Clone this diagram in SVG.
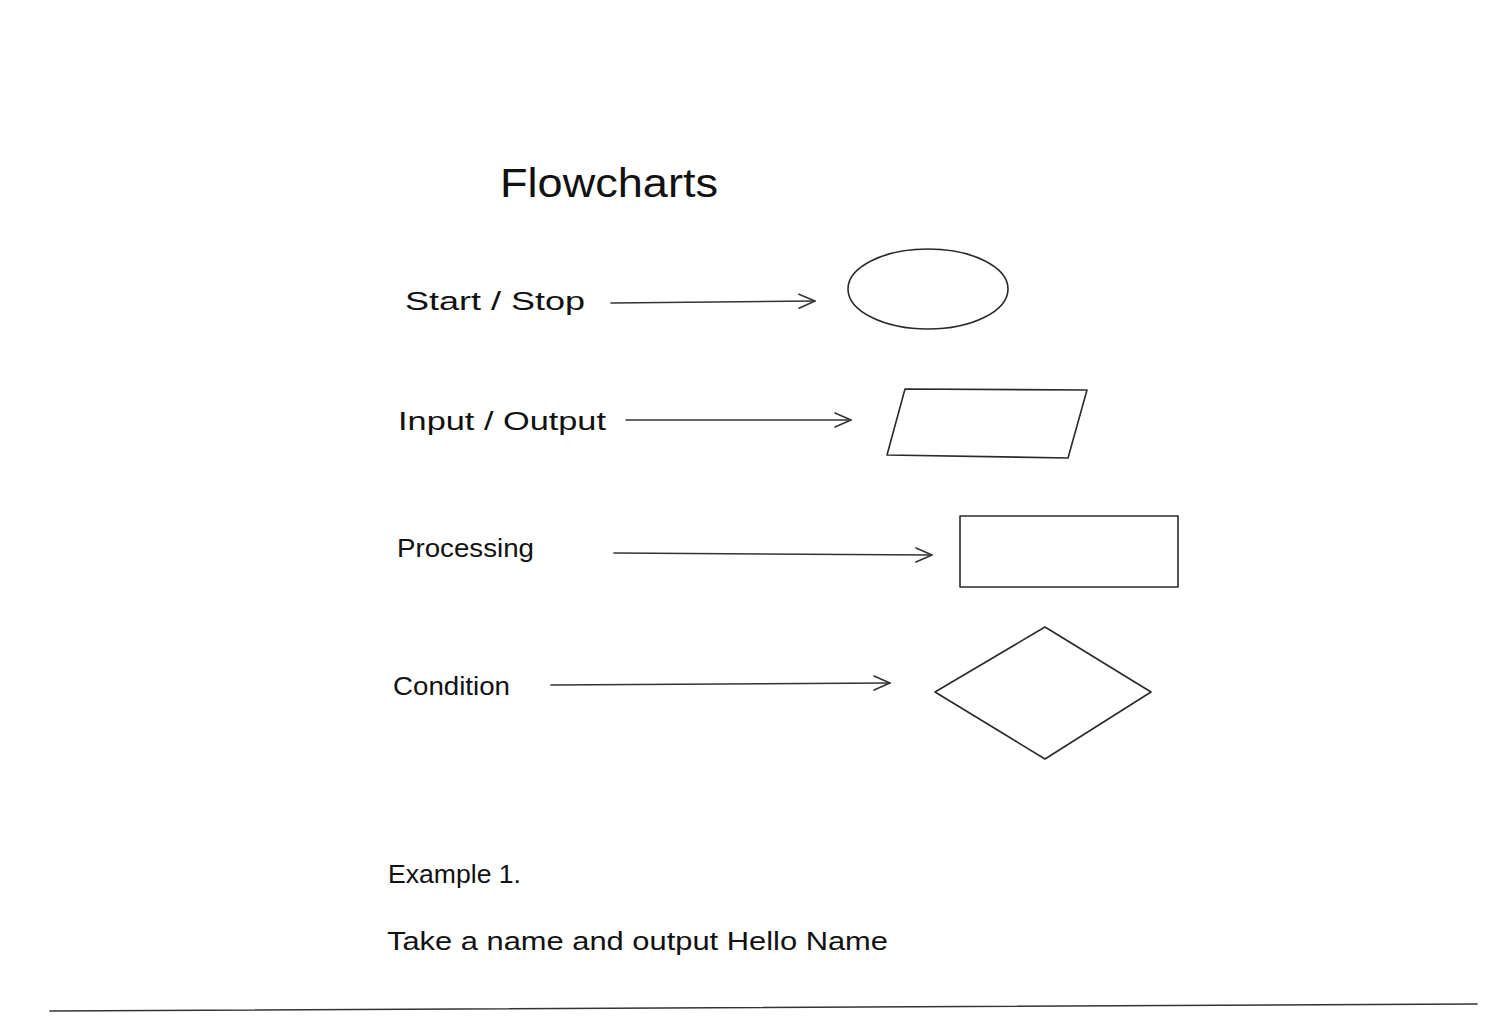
<svg xmlns="http://www.w3.org/2000/svg" width="1488" height="1026" viewBox="0 0 1488 1026">
<defs>
<style>
.t{font-family:"Liberation Sans","DejaVu Sans",sans-serif;fill:#111;}
.s{fill:none;stroke:#2a2a2a;stroke-width:1.6;stroke-linejoin:round;stroke-linecap:round;}
.c{fill:none;stroke:#333;stroke-width:1.6;stroke-linecap:round;}
</style>
<marker id="ah" viewBox="0 0 20 20" refX="18" refY="10" markerWidth="20" markerHeight="20" markerUnits="userSpaceOnUse" orient="auto">
<path d="M2,3 L18,10 L2,17" fill="none" stroke="#333" stroke-width="1.6" stroke-linecap="round" stroke-linejoin="round"/>
</marker>
</defs>
<rect width="1488" height="1026" fill="#fff"/>
<g id="title"><text class="t" x="500" y="197" font-size="40" textLength="218" lengthAdjust="spacingAndGlyphs">Flowcharts</text></g>
<g id="label-start"><text class="t" x="405" y="310" font-size="25" textLength="180" lengthAdjust="spacingAndGlyphs">Start / Stop</text></g>
<g id="label-io"><text class="t" x="398" y="430" font-size="25" textLength="208" lengthAdjust="spacingAndGlyphs">Input / Output</text></g>
<g id="label-proc"><text class="t" x="397" y="557" font-size="25" textLength="137" lengthAdjust="spacingAndGlyphs">Processing</text></g>
<g id="label-cond"><text class="t" x="393" y="695" font-size="25" textLength="117" lengthAdjust="spacingAndGlyphs">Condition</text></g>
<g id="shape-ellipse"><ellipse class="s" cx="928" cy="289" rx="80" ry="40"/></g>
<g id="shape-parallelogram"><path class="s" d="M905,389 L1087,390 L1068,458 L887,455 Z"/></g>
<g id="shape-rect"><rect class="s" x="960" y="516" width="218" height="71"/></g>
<g id="shape-diamond"><path class="s" d="M1045,627 L1151,692 L1045,759 L935,692 Z"/></g>
<g id="connectors">
<path class="c" d="M611,303 L815,301" marker-end="url(#ah)"/>
<path class="c" d="M626,420 L851,420" marker-end="url(#ah)"/>
<path class="c" d="M614,553 L932,555" marker-end="url(#ah)"/>
<path class="c" d="M551,685 L890,683" marker-end="url(#ah)"/>
</g>
<g id="example"><text class="t" x="388" y="883" font-size="25" textLength="133" lengthAdjust="spacingAndGlyphs">Example 1.</text></g>
<g id="example-desc"><text class="t" x="387" y="950" font-size="25" textLength="501" lengthAdjust="spacingAndGlyphs">Take a name and output Hello Name</text></g>
<g id="divider"><path class="c" d="M50,1011 L1477,1004" stroke-width="2"/></g>
</svg>
